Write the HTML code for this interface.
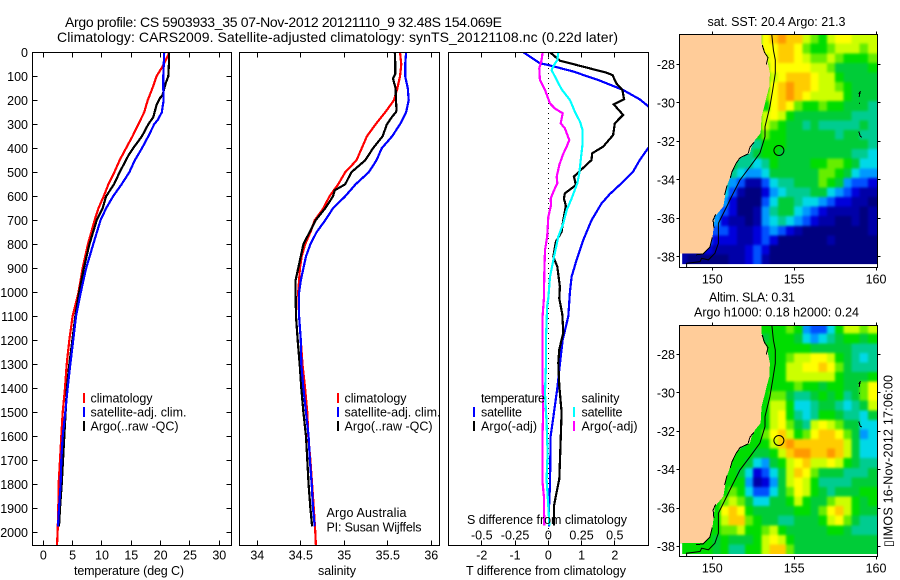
<!DOCTYPE html>
<html>
<head>
<meta charset="utf-8">
<title>Argo profile</title>
<style>
html,body{margin:0;padding:0;background:#fff;}
svg{display:block;}
text{font-family:"Liberation Sans","DejaVu Sans",sans-serif;font-size:12.5px;fill:#000;}
.ttl{font-size:14px;}
</style>
</head>
<body>
<svg id="fig" xmlns="http://www.w3.org/2000/svg" width="900" height="580" viewBox="0 0 900 580">
<defs>
<clipPath id="clip-p1"><rect x="32.5" y="52.5" width="199" height="493"/></clipPath>
<clipPath id="clip-p2"><rect x="239.5" y="52.5" width="200" height="493"/></clipPath>
<clipPath id="clip-p3"><rect x="448.5" y="52.5" width="200" height="493"/></clipPath>
<clipPath id="clip-m1"><rect x="679.5" y="34.5" width="198" height="233"/></clipPath>
<clipPath id="clip-m2"><rect x="679.5" y="325.5" width="198" height="231"/></clipPath>
<filter id="cell-smooth" x="-5%" y="-5%" width="110%" height="110%" color-interpolation-filters="sRGB">
<feGaussianBlur stdDeviation="1.4"/>
<feComponentTransfer><feFuncA type="linear" slope="50"/></feComponentTransfer>
</filter>
</defs>

<text class="ttl" x="65" y="27" textLength="437">Argo profile: CS 5903933_35 07-Nov-2012 20121110_9 32.48S 154.069E</text>
<text class="ttl" x="57" y="42" textLength="561">Climatology: CARS2009. Satellite-adjusted climatology: synTS_20121108.nc (0.22d later)</text>

<g id="panel-temperature" clip-path="url(#clip-p1)"></g>
<g id="panel-salinity" clip-path="url(#clip-p2)"></g>
<g id="panel-diff" clip-path="url(#clip-p3)"></g>
<g id="axes"></g>

<rect x="32.5" y="52.5" width="199" height="493" fill="none" stroke="#000" shape-rendering="crispEdges"/>
<rect x="239.5" y="52.5" width="200" height="493" fill="none" stroke="#000" shape-rendering="crispEdges"/>
<rect x="448.5" y="52.5" width="200" height="493" fill="none" stroke="#000" shape-rendering="crispEdges"/>

<text x="74" y="575" textLength="110">temperature (deg C)</text>
<text x="318" y="575" textLength="38">salinity</text>
<text x="466" y="575" textLength="160">T difference from climatology</text>
<text x="467" y="524" textLength="160">S difference from climatology</text>

<g>
<rect x="83" y="393" width="2" height="10" fill="#f00"/>
<rect x="83" y="407" width="2" height="10" fill="#00f"/>
<rect x="83" y="421" width="2" height="10" fill="#000"/>
<text x="90.5" y="402.5" textLength="62">climatology</text>
<text x="90.5" y="416.5" textLength="96">satellite-adj. clim.</text>
<text x="90.5" y="430.5" textLength="88">Argo(..raw -QC)</text>
</g>
<g>
<rect x="337" y="393" width="2" height="10" fill="#f00"/>
<rect x="337" y="407" width="2" height="10" fill="#00f"/>
<rect x="337" y="421" width="2" height="10" fill="#000"/>
<text x="344.5" y="402.5" textLength="62">climatology</text>
<text x="344.5" y="416.5" textLength="96">satellite-adj. clim.</text>
<text x="344.5" y="430.5" textLength="88">Argo(..raw -QC)</text>
</g>
<text x="326.5" y="517" textLength="80">Argo Australia</text>
<text x="326.5" y="531.5" textLength="95">PI: Susan Wijffels</text>

<g>
<text x="481" y="402.5" textLength="64">temperature</text>
<text x="481" y="416.5" textLength="41">satellite</text>
<text x="481" y="430.5" textLength="56">Argo(-adj)</text>
<rect x="473" y="407" width="2" height="10" fill="#00f"/>
<rect x="473" y="421" width="2" height="10" fill="#000"/>
<text x="581.5" y="402.5" textLength="38">salinity</text>
<text x="581.5" y="416.5" textLength="41">satellite</text>
<text x="581.5" y="430.5" textLength="56">Argo(-adj)</text>
<rect x="573" y="407" width="2" height="10" fill="#0ff"/>
<rect x="573" y="421" width="2" height="10" fill="#f0f"/>
</g>

<text x="707.5" y="26" textLength="138">sat. SST: 20.4  Argo: 21.3</text>
<g id="map-sst" clip-path="url(#clip-m1)"></g>
<rect x="679.5" y="34.5" width="198" height="233" fill="none" stroke="#000" shape-rendering="crispEdges"/>

<text x="709" y="301.5" textLength="86">Altim. SLA: 0.31</text>
<text x="694" y="316.5" textLength="165">Argo h1000: 0.18 h2000: 0.24</text>
<g id="map-sla" clip-path="url(#clip-m2)"></g>
<rect x="679.5" y="325.5" width="198" height="231" fill="none" stroke="#000" shape-rendering="crispEdges"/>

<text transform="translate(892.5,547) rotate(-90)" x="0" y="0" textLength="172">▯IMOS 16-Nov-2012 17:06:00</text>
</svg>

<script>
/* ---------- profile data ---------- */
const depthTicks = [0,100,200,300,400,500,600,700,800,900,1000,1100,1200,1300,1400,1500,1600,1700,1800,1900,2000];
const temperatureTicks = [0,5,10,15,20,25,30];
const salinityTicks = [34,34.5,35,35.5,36];
const salinityTickLabels = ['34','34.5','35','35.5','36'];
const tDiffTicks = [-2,-1,0,1,2];
const tDiffTickLabels = ['-2','-1','0','1','2'];
const sDiffTicks = [-0.5,-0.25,0,0.25,0.5];
const sDiffTickLabels = ['-0.5','-0.25','0','0.25','0.5'];

const tempClimDepth = [0,10,60,100,150,200,250,300,350,400,450,500,550,600,650,700,800,900,1000,1100,1200,1300,1400,1500,1600,1700,1800,1900,2000,2055];
const tempClim = [21.4,21.3,20.3,19.3,18.6,17.8,17.2,16.2,15.2,14.1,13.0,12.1,11.1,10.3,9.4,8.75,7.6,6.7,6.0,5.0,4.43,3.98,3.7,3.3,3.07,2.84,2.6,2.56,2.44,2.33];
const tempSatDepth = [0,100,150,200,250,280,300,350,400,450,500,550,600,650,700,800,900,1000,1100,1200,1300,1400,1500,1600,1700,1800,1900,1975];
const tempSat = [20.6,20.45,20.45,20.5,20.2,19.55,18.9,17.9,16.8,15.6,14.65,13.35,11.9,10.7,9.75,8.5,7.3,6.4,5.57,5.1,4.6,4.15,3.75,3.3,3.07,2.95,2.67,2.5];
const tempArgoDepth = [0,50,100,130,180,190,220,270,300,350,400,430,500,550,600,650,700,800,900,1000,1100,1200,1300,1400,1500,1600,1700,1800,1900,1975];
const tempArgo = [21.4,21.4,21.3,20.85,20.3,19.9,19.3,18.75,17.9,16.8,15.3,14.5,13.0,12.05,10.7,10.1,9.1,7.85,6.9,6.1,5.45,4.95,4.43,4.03,3.8,3.58,3.35,3.13,2.84,2.67];

const salClimDepth = [0,50,100,150,200,250,300,350,400,450,500,550,600,650,700,750,800,850,900,950,1000,1100,1200,1300,1400,1500,1600,1700,1800,1900,2000,2055];
const salClim = [35.64,35.655,35.64,35.61,35.57,35.47,35.36,35.26,35.20,35.14,35.01,34.93,34.83,34.76,34.66,34.61,34.55,34.51,34.49,34.48,34.47,34.48,34.50,34.52,34.55,34.575,34.586,34.61,34.63,34.65,34.667,34.674];
const salSatDepth = [0,50,100,150,200,250,300,350,400,450,500,550,600,650,700,750,800,850,900,950,1000,1100,1200,1300,1400,1500,1600,1700,1800,1900,1975];
const salSat = [35.71,35.70,35.70,35.73,35.74,35.71,35.64,35.55,35.43,35.37,35.28,35.13,35.01,34.87,34.78,34.68,34.61,34.56,34.53,34.50,34.48,34.48,34.50,34.506,34.53,34.56,34.59,34.605,34.625,34.64,34.66];
const salArgoDepth = [0,50,90,110,150,200,240,250,265,300,350,400,450,500,550,575,600,650,700,750,800,850,900,950,1000,1100,1200,1300,1400,1500,1600,1700,1800,1900,1975];
const salArgo = [35.58,35.586,35.586,35.56,35.59,35.594,35.60,35.594,35.556,35.49,35.44,35.33,35.24,35.08,35.01,34.89,34.87,34.78,34.67,34.60,34.53,34.50,34.47,34.44,34.44,34.445,34.464,34.487,34.506,34.53,34.56,34.575,34.59,34.61,34.63];

const diffTSatDepth = [0,46,53,80,118,157,196,224,300,400,449,497,546,591,630,700,783,865,935,1000,1100,1200,1300,1400,1500,1600,1700,1800,1900,1975];
const diffTSat = [-0.75,-0.25,0,0.75,1.55,2.25,2.75,3.0,3.6,3.0,2.75,2.55,2.2,1.85,1.6,1.3,1.05,0.85,0.7,0.65,0.6,0.43,0.35,0.27,0.17,0.07,0.06,0.05,0.02,0.02];
const diffTArgoDepth = [0,35,49,67,85,95,130,157,196,217,261,296,345,393,421,449,488,518,553,588,609,640,699,748,789,852,893,977,1026,1092,1168,1238,1293,1390,1500,1625,1778,1833,1889,1972];
const diffTArgo = [0.05,0.35,0.75,1.25,1.75,1.93,2.05,2.23,2.28,1.97,2.25,2.0,1.95,1.65,1.32,1.3,1.0,0.77,0.83,0.5,0.47,0.53,0.45,0.4,0.23,0.15,0.27,0.35,0.33,0.42,0.45,0.33,0.3,0.33,0.4,0.37,0.33,0.25,0.17,0.17];
const diffSSatDepth = [0,32,57,74,115,154,199,248,289,324,380,442,504,546,609,657,713,768,852,935,1026,1055,1200,1310,1420,1545,1670,1780,1889,1972];
const diffSSat = [0.075,0.068,0.038,0.025,0.063,0.1,0.163,0.2,0.238,0.258,0.258,0.245,0.233,0.218,0.175,0.138,0.113,0.075,0.043,0.013,0,-0.008,-0.018,-0.018,-0.025,-0.013,-0.005,-0.013,0,0.008];
const diffSArgoDepth = [0,32,67,115,157,213,234,254,296,317,366,393,428,470,518,546,581,609,637,686,768,824,921,1026,1100,1200,1375,1490,1585,1795,1850,1972];
const diffSArgo = [-0.043,-0.05,-0.068,-0.063,-0.025,0.013,0.05,0.108,0.093,0.125,0.158,0.138,0.108,0.083,0.063,0.068,0.038,0.018,0.02,0,-0.008,-0.025,-0.03,-0.033,-0.043,-0.043,-0.043,-0.038,-0.043,-0.043,-0.033,-0.03];

/* ---------- map data (colour level per half-degree cell, north to south) ---------- */
const mapLonTicks = [150,155,160];
const mapLatTicks = [-28,-30,-32,-34,-36,-38];
const sstLevels = [
[7,7,7,7,7,7,7,7,7,7,11,12,13,12,12,10,9,8,10,11,11,10,10,10],
[7,7,7,7,7,7,7,7,7,7,11,11,12,12,11,9,8,8,9,10,10,10,9,10],
[7,7,7,7,7,7,7,7,7,7,10,11,12,12,11,10,9,9,10,9,8,8,8,9],
[7,7,7,7,7,7,7,7,7,7,9,11,11,11,11,11,10,10,9,7,7,7,7,8],
[7,7,7,7,7,7,7,7,7,7,8,10,11,12,12,12,11,10,10,8,7,7,7,7],
[7,7,7,7,7,7,7,7,7,7,8,11,12,13,12,12,11,10,10,9,8,7,7,7],
[7,7,7,7,7,7,7,7,7,7,9,11,12,13,12,11,10,10,10,10,8,7,7,7],
[7,7,7,7,7,7,7,7,7,7,8,11,12,11,9,8,8,9,8,8,7,7,7,6],
[7,7,7,7,7,7,7,7,7,7,10,11,10,8,7,7,7,7,7,7,7,6,6,6],
[7,7,7,7,7,7,7,7,7,8,10,9,8,7,7,6,7,6,6,6,6,6,7,6],
[7,7,7,7,7,7,7,7,7,8,9,8,8,7,7,7,7,7,7,6,7,7,6,6],
[7,7,7,7,7,7,7,7,6,6,8,8,8,7,7,7,7,7,7,7,7,7,7,6],
[7,7,7,7,7,7,7,6,6,7,8,8,7,7,7,7,7,7,7,7,7,6,6,5],
[7,7,7,7,7,7,7,6,6,5,6,8,7,7,7,7,8,8,9,9,8,7,5,5],
[7,7,7,7,7,7,6,5,4,4,5,7,7,7,7,7,7,9,9,8,7,5,4,4],
[7,7,7,7,7,6,4,3,1,1,3,5,6,6,7,7,7,9,8,7,4,3,3,2],
[7,7,7,7,7,5,3,1,0,0,2,4,5,6,6,6,7,7,5,4,3,2,1,1],
[7,7,7,7,5,4,2,0,0,0,3,5,7,7,6,5,5,4,3,2,2,1,1,0],
[7,7,7,7,4,3,2,0,0,1,4,6,7,7,5,4,3,2,1,1,1,1,0,1],
[7,7,7,7,4,2,1,1,0,1,4,5,6,5,4,3,2,1,1,0,0,1,0,1],
[7,7,7,3,3,3,2,1,1,2,3,4,3,2,1,0,0,0,0,0,0,0,0,1],
[7,7,7,3,2,2,2,1,1,2,3,2,0,0,0,0,0,0,1,0,0,0,0,0],
[1,1,1,2,1,1,1,1,2,3,2,0,0,0,0,0,0,0,0,0,0,0,0,0],
[1,0,0,0,0,0,1,1,2,3,1,0,0,0,0,0,0,0,0,0,0,0,0,0]
];
const slaLevels = [
[8,8,8,8,8,8,8,8,8,8,8,8,8,9,8,4,3,3,5,8,10,10,9,10],
[8,8,8,8,8,8,8,8,8,8,7,8,8,8,7,5,4,5,6,7,8,8,7,8],
[8,8,8,8,8,8,8,8,8,8,8,8,8,8,8,8,7,7,7,7,7,6,6,6],
[8,8,8,8,8,8,8,8,8,8,7,8,8,9,10,10,11,11,10,8,7,6,5,6],
[8,8,8,8,8,8,8,8,8,8,8,8,8,10,10,11,11,12,11,9,7,6,6,6],
[8,8,8,8,8,8,8,8,8,8,8,8,8,10,10,10,10,10,10,8,7,7,7,8],
[8,8,8,8,8,8,8,8,8,8,8,8,8,8,9,8,8,7,8,8,7,7,9,11],
[8,8,8,8,8,8,8,8,8,8,8,9,9,7,6,6,7,8,7,8,6,7,9,11],
[8,8,8,8,8,8,8,8,8,8,8,10,10,8,5,5,6,7,7,6,5,6,7,10],
[8,8,8,8,8,8,8,8,8,8,8,10,11,8,6,5,6,8,8,7,6,6,5,7],
[8,8,8,8,8,8,8,8,8,8,8,10,11,9,7,6,10,11,10,9,7,7,5,5],
[8,8,8,8,8,8,8,8,8,8,9,11,12,10,8,9,11,12,12,11,9,7,4,5],
[8,8,8,8,8,8,8,7,8,8,8,10,12,13,12,12,12,12,12,12,10,7,5,5],
[8,8,8,8,8,8,8,8,8,7,7,8,10,12,13,13,12,12,13,12,10,7,5,5],
[8,8,8,8,8,8,8,8,7,5,4,7,8,10,11,12,10,10,11,10,8,7,6,6],
[8,8,8,8,8,8,8,7,5,2,3,5,7,10,12,11,9,7,7,7,6,6,6,7],
[8,8,8,8,8,8,8,8,4,1,2,4,7,10,11,10,8,6,6,6,6,7,7,7],
[8,8,8,8,8,8,9,8,5,3,3,5,7,9,11,10,8,7,6,7,7,7,8,8],
[8,8,8,8,8,9,10,9,7,5,5,7,7,8,10,8,7,7,9,10,10,8,7,8],
[8,8,8,8,8,11,12,11,8,7,7,7,7,7,8,8,7,9,11,12,10,8,7,7],
[8,8,8,8,8,10,12,12,9,8,7,7,6,6,7,7,7,8,10,11,9,7,6,6],
[8,8,8,8,8,9,9,10,8,8,9,10,8,7,7,7,7,7,8,8,7,6,6,6],
[8,8,8,8,7,8,7,7,7,8,10,11,10,8,7,7,7,7,7,7,7,7,7,7],
[8,8,8,8,7,8,6,6,8,8,10,12,12,9,7,7,7,7,7,7,7,7,7,7]
];
const coastLon = [153.01,153.01,153.12,153.32,153.52,153.48,153.32,153.22,153.01,152.95,152.61,152.40,152.30,151.79,151.49,151.18,150.88,150.67,150.16,150.02,149.86,149.45,148.02];
const coastLat = [-26.42,-26.91,-27.34,-27.6,-28.47,-29.16,-29.68,-30.03,-30.72,-31.58,-31.93,-32.28,-32.62,-32.8,-33.14,-33.66,-34.35,-35.39,-35.91,-36.95,-37.47,-37.82,-37.82];
const shelfLon = [153.63,153.73,153.85,153.85,153.69,153.52,153.22,153.22,152.91,152.3,151.69,151.18,150.88,150.37,150.37,150.16,149.76,149.35,149.25,148.43,148.43];
const shelfLat = [-26.42,-27.26,-27.77,-28.47,-29.33,-30.2,-31.24,-31.76,-32.62,-33.32,-34.01,-34.87,-35.39,-36.26,-37.3,-37.82,-38.16,-38.08,-38.25,-38.34,-38.55];
const coastInkLon = [[153.05,153.2,153.4,153.3],[152.55,152.3,152.2],[152.2,151.7,151.45,151.2,151.1],[150.9,150.75],[150.2,150.05,150.1],[150.0,149.85,149.45,149.0]];
const coastInkLat = [[-27.0,-27.4,-27.65,-28.0],[-32.05,-32.3,-32.6],[-32.65,-32.85,-33.15,-33.6,-33.9],[-34.3,-34.8],[-35.8,-36.1,-36.5],[-37.0,-37.5,-37.85,-37.9]];
const islandLon = [[158.95,159.05,158.97],[158.98,158.99],[158.95,159.05,159.15]];
const islandLat = [[-29.55,-29.4,-29.7],[-30.0,-30.05],[-31.5,-31.75,-31.78]];
const floatLon = 154.069;
const floatLat = -32.48;

/* colour scale */
const levelColours = ['#00007f','#0000a8','#0000dc','#0050ff','#0098ff','#00d8e8','#00cc90','#00cc38','#00dd00','#66ee00','#ccff00','#ffff00','#ffcc00','#ff9900','#ee6600'];

/* ---------- axis functions ---------- */
const NS = 'http://www.w3.org/2000/svg';
function yDepth(d){ return 52.3 + 0.24*d; }
function xTemp(t){ return 43.3 + 5.867*t; }
function xSal(s){ return 257.3 + 87*(s-34); }
function xDiffT(t){ return 548.3 + 33.25*t; }
function xDiffS(s){ return 548.3 + 133*s; }
function xLon(lon){ return 712.3 + 16.37*(lon-150); }
function yLat1(lat){ return 64.3 + 19.25*(-28-lat); }
function yLat2(lat){ return 354.3 + 19.24*(-28-lat); }

const axes = document.getElementById('axes');

function polyPoints(xs, ys, xf, yf){
  return xs.map(function(x,i){ return xf(x).toFixed(1)+','+yf(ys[i]).toFixed(1); }).join(' ');
}
function drawProfile(parent, name, values, depths, xf, colour){
  const el = document.createElementNS(NS,'polyline');
  
  
  el.setAttribute('points', polyPoints(values, depths, xf, yDepth));
  el.setAttribute('fill', 'none');
  el.setAttribute('stroke', colour);
  el.setAttribute('stroke-width', '2.2');
  el.setAttribute('shape-rendering', 'crispEdges');
  parent.appendChild(el);
}
function tick(name, x1, y1, x2, y2){
  const el = document.createElementNS(NS,'line');
  
  
  el.setAttribute('x1', x1);
  el.setAttribute('y1', y1);
  el.setAttribute('x2', x2);
  el.setAttribute('y2', y2);
  el.setAttribute('stroke', '#000');
  el.setAttribute('shape-rendering', 'crispEdges');
  axes.appendChild(el);
}
function label(name, str, x, y, anchor){
  const el = document.createElementNS(NS,'text');
  
  
  el.setAttribute('x', x);
  el.setAttribute('y', y);
  el.setAttribute('text-anchor', anchor);
  el.textContent = str;
  axes.appendChild(el);
}

/* ---------- profile panels ---------- */
const p1 = document.getElementById('panel-temperature');
drawProfile(p1, 'temperature-climatology-line', tempClim, tempClimDepth, xTemp, '#f00');
drawProfile(p1, 'temperature-argo-line', tempArgo, tempArgoDepth, xTemp, '#000');
drawProfile(p1, 'temperature-satellite-line', tempSat, tempSatDepth, xTemp, '#00f');

const p2 = document.getElementById('panel-salinity');
drawProfile(p2, 'salinity-climatology-line', salClim, salClimDepth, xSal, '#f00');
drawProfile(p2, 'salinity-argo-line', salArgo, salArgoDepth, xSal, '#000');
drawProfile(p2, 'salinity-satellite-line', salSat, salSatDepth, xSal, '#00f');

const p3 = document.getElementById('panel-diff');
const zeroLine = document.createElementNS(NS,'line');


zeroLine.setAttribute('x1', xDiffT(0));
zeroLine.setAttribute('x2', xDiffT(0));
zeroLine.setAttribute('y1', 53);
zeroLine.setAttribute('y2', 545);
zeroLine.setAttribute('stroke', '#000');
zeroLine.setAttribute('stroke-dasharray', '1 4');
zeroLine.setAttribute('shape-rendering', 'crispEdges');
p3.appendChild(zeroLine);
drawProfile(p3, 't-difference-satellite-line', diffTSat, diffTSatDepth, xDiffT, '#00f');
drawProfile(p3, 't-difference-argo-line', diffTArgo, diffTArgoDepth, xDiffT, '#000');
drawProfile(p3, 's-difference-satellite-line', diffSSat, diffSSatDepth, xDiffS, '#0ff');
drawProfile(p3, 's-difference-argo-line', diffSArgo, diffSArgoDepth, xDiffS, '#f0f');

/* ---------- profile ticks ---------- */
depthTicks.forEach(function(d){
  const y = Math.floor(yDepth(d)) + 0.5;
  tick('depth-tick', 32.5, y, 37.5, y);
  tick('depth-tick-right', 226.5, y, 231.5, y);
  label('depth-tick-label', String(d), 28, yDepth(d)+4.5, 'end');
});
temperatureTicks.forEach(function(t){
  const x = Math.floor(xTemp(t)) + 0.5;
  tick('temperature-tick-top', x, 52.5, x, 57.5);
  tick('temperature-tick-bottom', x, 540.5, x, 545.5);
  label('temperature-tick-label', String(t), xTemp(t), 559.5, 'middle');
});
salinityTicks.forEach(function(s,i){
  const x = Math.floor(xSal(s)) + 0.5;
  tick('salinity-tick-top', x, 52.5, x, 57.5);
  tick('salinity-tick-bottom', x, 540.5, x, 545.5);
  label('salinity-tick-label', salinityTickLabels[i], xSal(s), 559.5, 'middle');
});
tDiffTicks.forEach(function(t,i){
  const x = Math.floor(xDiffT(t)) + 0.5;
  tick('t-difference-tick-top', x, 52.5, x, 57.5);
  tick('t-difference-tick-bottom', x, 540.5, x, 545.5);
  label('t-difference-tick-label', tDiffTickLabels[i], xDiffT(t), 559.5, 'middle');
});
sDiffTicks.forEach(function(s,i){
  label('s-difference-tick-label', sDiffTickLabels[i], xDiffS(s), 539.5, 'middle');
});

/* ---------- maps ---------- */
function drawMap(groupId, levels, yLat){
  const g = document.getElementById(groupId);
  const latStart = -26.43;
  const latStep = 0.498;
  const cells = document.createElementNS(NS,'g');
  
  
  cells.setAttribute('filter', 'url(#cell-smooth)');
  g.appendChild(cells);
  levels.forEach(function(row,r){
    row.forEach(function(level,c){
      const left = xLon(148+c*0.5);
      const right = xLon(148.5+c*0.5);
      const top = yLat(latStart-r*latStep);
      const bottom = yLat(latStart-(r+1)*latStep);
      const cell = document.createElementNS(NS,'rect');
      
      
      cell.setAttribute('x', left.toFixed(1));
      cell.setAttribute('y', top.toFixed(1));
      cell.setAttribute('width', (right-left+0.4).toFixed(1));
      cell.setAttribute('height', (bottom-top+0.4).toFixed(1));
      cell.setAttribute('fill', levelColours[level]);
      cell.setAttribute('shape-rendering', 'crispEdges');
      cells.appendChild(cell);
    });
  });
  const stripBottom = document.createElementNS(NS,'rect');
  
  
  stripBottom.setAttribute('x', xLon(147.9));
  stripBottom.setAttribute('y', yLat(-38.38));
  stripBottom.setAttribute('width', xLon(160.3)-xLon(147.9));
  stripBottom.setAttribute('height', yLat(-39)-yLat(-38.38));
  stripBottom.setAttribute('fill', '#fff');
  g.appendChild(stripBottom);
  const stripLeft = document.createElementNS(NS,'rect');
  
  
  stripLeft.setAttribute('x', xLon(147.9));
  stripLeft.setAttribute('y', yLat(-37.82));
  stripLeft.setAttribute('width', xLon(148.16)-xLon(147.9));
  stripLeft.setAttribute('height', yLat(-39)-yLat(-37.82));
  stripLeft.setAttribute('fill', '#fff');
  g.appendChild(stripLeft);
  const landPts = polyPoints(coastLon, coastLat, xLon, yLat) + ' ' + xLon(147.9).toFixed(1) + ',' + yLat(-37.82).toFixed(1) + ' ' + xLon(147.9).toFixed(1) + ',' + yLat(-26.3).toFixed(1) + ' ' + xLon(153.01).toFixed(1) + ',' + yLat(-26.3).toFixed(1);
  const land = document.createElementNS(NS,'polygon');
  
  
  land.setAttribute('points', landPts);
  land.setAttribute('fill', '#ffcc99');
  land.setAttribute('shape-rendering', 'crispEdges');
  g.appendChild(land);
  coastInkLon.forEach(function(lons,i){
    const ink = document.createElementNS(NS,'polyline');
    
    
    ink.setAttribute('points', polyPoints(lons, coastInkLat[i], xLon, yLat));
    ink.setAttribute('fill', 'none');
    ink.setAttribute('stroke', '#000');
    ink.setAttribute('stroke-width', '1');
    ink.setAttribute('shape-rendering', 'crispEdges');
    g.appendChild(ink);
  });
  islandLon.forEach(function(lons,i){
    const isle = document.createElementNS(NS,'polyline');
    
    
    isle.setAttribute('points', polyPoints(lons, islandLat[i], xLon, yLat));
    isle.setAttribute('fill', 'none');
    isle.setAttribute('stroke', '#000');
    isle.setAttribute('shape-rendering', 'crispEdges');
    g.appendChild(isle);
  });
  const shelf = document.createElementNS(NS,'polyline');
  
  
  shelf.setAttribute('points', polyPoints(shelfLon, shelfLat, xLon, yLat));
  shelf.setAttribute('fill', 'none');
  shelf.setAttribute('stroke', '#000');
  shelf.setAttribute('stroke-width', '1');
  g.appendChild(shelf);
  const marker = document.createElementNS(NS,'circle');
  
  
  marker.setAttribute('cx', xLon(floatLon).toFixed(1));
  marker.setAttribute('cy', yLat(floatLat).toFixed(1));
  marker.setAttribute('r', '5');
  marker.setAttribute('fill', 'none');
  marker.setAttribute('stroke', '#000');
  g.appendChild(marker);
}
drawMap('map-sst', sstLevels, yLat1);
drawMap('map-sla', slaLevels, yLat2);

function drawMapTicks(yLat, top, bottom){
  mapLonTicks.forEach(function(lon){
    const x = Math.floor(xLon(lon)) + 0.5;
    tick('map-longitude-tick-top', x, top-3, x, top);
    tick('map-longitude-tick-bottom', x, bottom, x, bottom+3);
    label('map-longitude-label', String(lon), xLon(lon), bottom+16, 'middle');
  });
  mapLatTicks.forEach(function(lat){
    const y = Math.floor(yLat(lat)) + 0.5;
    tick('map-latitude-tick-left', 676.5, y, 679.5, y);
    tick('map-latitude-tick-right', 877.5, y, 880.5, y);
    label('map-latitude-label', String(lat), 675, yLat(lat)+4.5, 'end');
  });
}
drawMapTicks(yLat1, 34.5, 267.5);
drawMapTicks(yLat2, 325.5, 556.5);
</script>
</body>
</html>
